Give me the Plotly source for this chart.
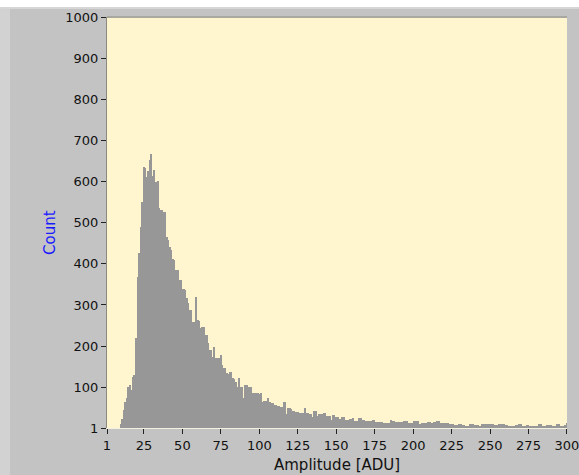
import plotly.graph_objects as go

# Histogram: amplitude bins 1..300 (width 1) and counts
amplitude = list(range(1, 301))
counts = [
    0, 0, 0, 0, 0, 0, 0, 0, 0, 10,
    22, 45, 65, 74, 100, 106, 93, 126, 130, 219,
    368, 426, 490, 550, 635, 633, 612, 626, 652, 667,
    614, 628, 600, 601, 536, 531, 532, 527, 525, 466,
    458, 440, 434, 413, 410, 386, 385, 361, 360, 338,
    339, 336, 316, 304, 288, 289, 259, 258, 320, 264,
    262, 243, 246, 246, 227, 226, 207, 191, 190, 174,
    199, 170, 171, 172, 178, 154, 146, 147, 134, 133,
    138, 137, 122, 121, 114, 101, 122, 101, 100, 73,
    106, 105, 101, 100, 100, 85, 85, 86, 85, 84,
    85, 65, 66, 67, 67, 74, 65, 61, 61, 57,
    57, 54, 54, 53, 53, 65, 64, 35, 49, 49,
    48, 43, 43, 41, 41, 38, 38, 37, 37, 49,
    38, 38, 35, 35, 27, 43, 43, 30, 35, 35,
    35, 38, 38, 30, 30, 30, 20, 33, 33, 28,
    28, 22, 22, 27, 27, 20, 20, 20, 22, 22,
    25, 19, 19, 19, 25, 25, 20, 20, 19, 19,
    19, 19, 19, 20, 20, 16, 16, 16, 16, 16,
    14, 14, 12, 12, 12, 20, 19, 19, 16, 16,
    16, 15, 15, 18, 18, 18, 12, 12, 12, 12,
    18, 18, 18, 10, 10, 12, 12, 12, 12, 15,
    15, 12, 12, 16, 16, 18, 18, 12, 12, 12,
    12, 12, 12, 11, 11, 11, 8, 8, 8, 10,
    10, 8, 8, 7, 7, 7, 10, 10, 10, 8,
    8, 8, 7, 7, 10, 10, 10, 10, 11, 11,
    11, 11, 8, 8, 8, 10, 10, 10, 10, 8,
    8, 7, 7, 5, 5, 5, 8, 8, 11, 11,
    7, 7, 7, 8, 8, 7, 7, 7, 7, 7,
    7, 10, 10, 7, 7, 7, 8, 8, 8, 8,
    7, 7, 7, 10, 10, 7, 7, 7, 8, 12,
]
assert len(counts) == len(amplitude)

x_ticks = [1, 25, 50, 75, 100, 125, 150, 175, 200, 225, 250, 275, 300]
y_ticks = [1, 100, 200, 300, 400, 500, 600, 700, 800, 900, 1000]

W, H = 579, 475
L, R, T, B = 107, 12, 17, 47
pw, ph = W - L - R, H - T - B

def px(x):
    return (x - L) / pw

def py(y):
    return (H - B - y) / ph

fig = go.Figure(go.Bar(
    x=amplitude, y=counts, width=1.0,
    marker=dict(color="#979797", line=dict(width=0)),
    hoverinfo="x+y",
))

font = dict(family="DejaVu Sans, Verdana, sans-serif", size=12, color="#111111")

fig.update_layout(
    width=W, height=H,
    margin=dict(l=L, r=R, t=T, b=B, pad=0, autoexpand=False),
    paper_bgcolor="#c3c3c3",
    plot_bgcolor="#fff6d0",
    bargap=0,
    showlegend=False,
    font=font,
    xaxis=dict(
        range=[1, 300.02], tickvals=x_ticks, ticktext=[str(v) for v in x_ticks],
        ticks="outside", ticklen=5, tickwidth=1, tickcolor="#222222",
        showgrid=False, zeroline=False, automargin=False,
        ticklabeloverflow="allow",
        showline=True, linecolor="#f4f0e0", linewidth=1, mirror=False,
        tickfont=dict(size=13),
    ),
    yaxis=dict(
        range=[1, 1000], tickvals=y_ticks, ticktext=[str(v) for v in y_ticks],
        ticks="outside", ticklen=5, tickwidth=1, tickcolor="#222222",
        showgrid=False, zeroline=False, automargin=False,
        showline=True, linecolor="#8a8a80", linewidth=1,
        tickfont=dict(size=13),
    ),
    annotations=[
        dict(text="Amplitude [ADU]", xref="paper", yref="paper",
             x=0.5, y=py(465), xanchor="center", yanchor="middle",
             showarrow=False, font=dict(size=15, color="#111111")),
        dict(text="Count", xref="paper", yref="paper",
             x=px(50), y=py(233), xanchor="center", yanchor="middle",
             textangle=-90, showarrow=False,
             font=dict(size=15, color="#1a1aff")),
    ],
    shapes=[
        # white strip along the top of the window
        dict(type="rect", xref="paper", yref="paper",
             x0=px(-2), x1=px(W + 2), y0=py(7), y1=py(-2),
             fillcolor="white", line=dict(width=0), layer="above"),
        # lighter bevel line under it
        dict(type="rect", xref="paper", yref="paper",
             x0=px(0), x1=px(W), y0=py(9), y1=py(7),
             fillcolor="#d6d6d6", line=dict(width=0), layer="above"),
        # lighter strip on the left
        dict(type="rect", xref="paper", yref="paper",
             x0=px(0), x1=px(10), y0=py(H), y1=py(9),
             fillcolor="#d2d2d2", line=dict(width=0), layer="above"),
        # darker frame line above the plot area
        dict(type="line", xref="paper", yref="paper",
             x0=0, x1=1, y0=1.0, y1=1.0,
             line=dict(color="#a8a8a0", width=2)),
    ],
)

fig.write_html("out.html")
